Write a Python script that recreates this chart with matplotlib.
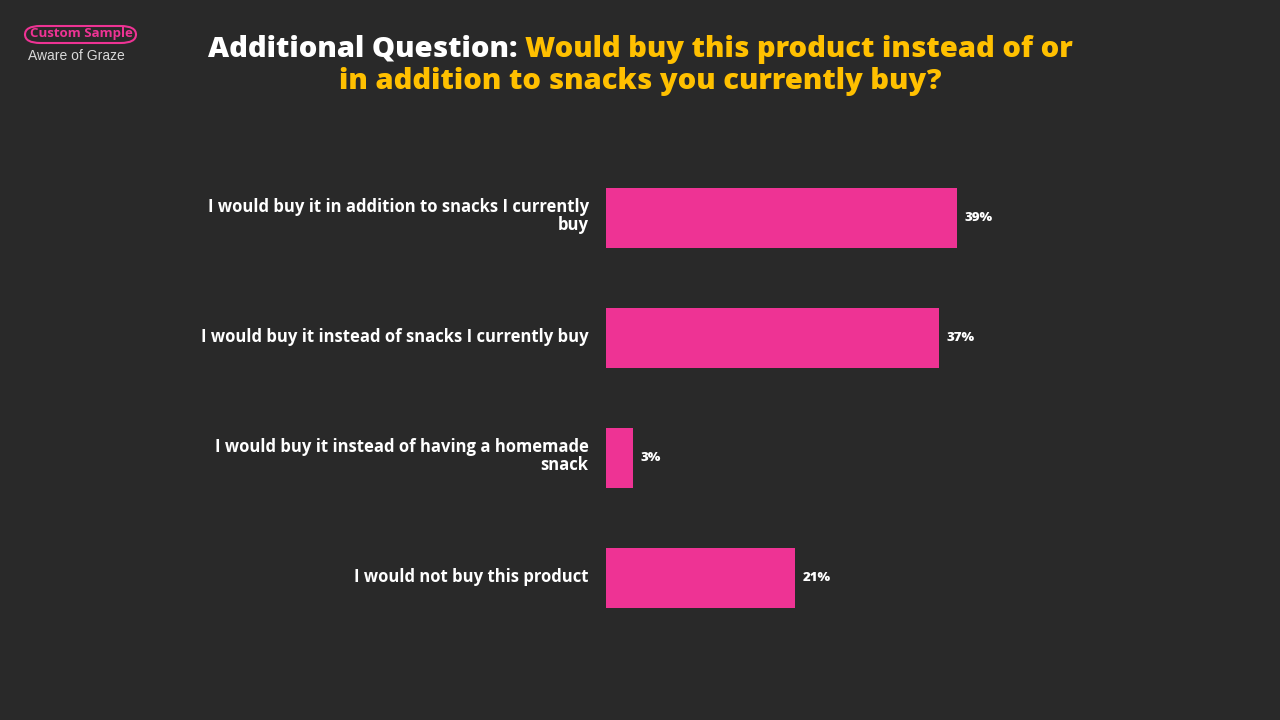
import matplotlib
matplotlib.use("Agg")
import matplotlib.pyplot as plt
import matplotlib.transforms as mtransforms
from matplotlib.patches import FancyBboxPatch

# data
categories = [
    "I would buy it in addition to snacks I currently\nbuy",
    "I would buy it instead of snacks I currently buy",
    "I would buy it instead of having a homemade\nsnack",
    "I would not buy this product",
]
shares = [39, 37, 3, 21]
value_labels = ["39%", "37%", "3%", "21%"]

BG = "#292929"
PINK = "#EE3394"
YELLOW = "#FFC000"
W, H = 1280, 720

plt.rcParams['font.family'] = ['Open Sans', 'DejaVu Sans']

fig = plt.figure(figsize=(12.8, 7.2), dpi=100, facecolor=BG)

# axes placed in pixels: bars start at x=606, rows 120px apart from y=158
ax = fig.add_axes([606 / W, 1 - 638 / H, 500 / W, 480 / H])
ax.set_facecolor(BG)
px_per_unit = 9.0
ax.set_xlim(0, 500 / px_per_unit)
ax.set_ylim(len(categories) - 0.5, -0.5)
ypos = list(range(len(categories)))
ax.barh(ypos, shares, height=0.5, color=PINK)
for y, v, lab in zip(ypos, shares, value_labels):
    ax.annotate(lab, (v, y), xytext=(5.5, 0), textcoords="offset points",
                ha="left", va="center", color="white", fontsize=9.5,
                fontweight="heavy")
ax.set_yticks(ypos)
ax.set_yticklabels(categories, color="white", fontsize=12, fontweight="bold",
                   linespacing=1.0)
ax.tick_params(axis="y", length=0, pad=12.5)
# labels sit slightly above bar centres
shift = mtransforms.ScaledTranslation(0, 3.5 / 100, fig.dpi_scale_trans)
for t in ax.get_yticklabels():
    t.set_transform(t.get_transform() + shift)
ax.set_xticks([])
for s in ax.spines.values():
    s.set_visible(False)

# title with two colours
fig.canvas.draw()
r = fig.canvas.get_renderer()
tsize = 21
part1 = fig.text(0, 0, "Additional Question: ", color="white", fontsize=tsize,
                 fontweight="heavy")
part2 = fig.text(0, 0, "Would buy this product instead of or", color=YELLOW,
                 fontsize=tsize, fontweight="heavy")
w1 = part1.get_window_extent(r).width
w2 = part2.get_window_extent(r).width
x0 = (W / 2 - (w1 + w2) / 2)
y1 = 1 - 49 / H
part1.set_position((x0 / W, y1))
part1.set_va("center")
part2.set_position(((x0 + w1) / W, y1))
part2.set_va("center")
fig.text(0.5, 1 - 82 / H, "in addition to snacks you currently buy?", color=YELLOW,
         fontsize=tsize, fontweight="heavy", ha="center", va="center")

# top-left tag
fig.text(81 / W, 1 - 34 / H, "Custom Sample", color=PINK, fontsize=9.5,
         fontweight="bold", ha="center", va="center")
tag = FancyBboxPatch((25 / W, 1 - 43 / H), 111 / W, 17 / H,
                     boxstyle="round,pad=0,rounding_size=0.012",
                     transform=fig.transFigure, fill=False, edgecolor=PINK,
                     linewidth=1.5)
fig.patches.append(tag)
fig.text(28 / W, 1 - 56 / H, "Aware of Graze", color="#D9D9D9", fontsize=10,
         ha="left", va="center", family=["Liberation Sans", "DejaVu Sans"])

fig.savefig("out.png", dpi=100, facecolor=BG)
